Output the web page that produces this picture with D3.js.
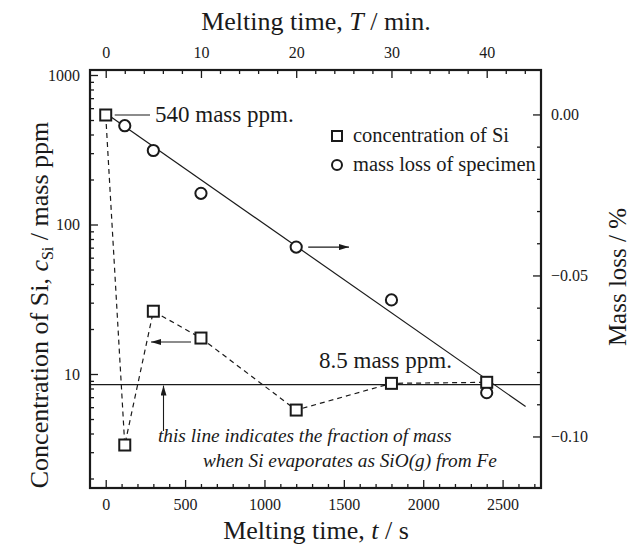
<!DOCTYPE html>
<html>
<head>
<meta charset="utf-8">
<script src="https://cdn.jsdelivr.net/npm/d3@7"></script>
<style>
  body { margin: 0; background: #fff; }
</style>
</head>
<body>
<svg id="chart" width="631" height="545"></svg>
<script>
// concentration of Si (left, log axis)
var concTime = [0, 120, 300, 600, 1200, 1800, 2400];
var concSi = [540, 3.35, 26.3, 17.4, 5.74, 8.66, 8.8];
// mass loss of specimen (right axis, %)
var lossTime = [120, 300, 600, 1200, 1800, 2400];
var massLoss = [-0.0035, -0.0112, -0.0245, -0.0412, -0.0576, -0.0864];
// fitted line through mass loss
var fitTime = [0, 2645];
var fitLoss = [0.0004, -0.0907];
var evapLevel = 8.5;

var bottomTicks = [0, 500, 1000, 1500, 2000, 2500];
var topTicks = [0, 10, 20, 30, 40];
var leftTicks = [10, 100, 1000];
var rightTicks = [0, -0.05, -0.10];

!(function (d3) {
  var svg = d3.select("#chart"),
    left = 90, right = 541, top = 70, bottom = 488,
    ink = "#1a1a1a";

  function txt(sel, size) {
    return sel.style("font-family", "'Liberation Serif'").style("font-size", size + "px").attr("fill", ink);
  }

  var x = d3.scaleLinear().domain([-99, 2742]).range([left, right]);
  var xMin = d3.scaleLinear().domain([-99 / 60, 2742 / 60]).range([left, right]);
  var yL = d3.scaleLog().domain([1.728, 1080]).range([bottom, top]);
  var yR = d3.scaleLinear().domain([-0.116, 0.0138]).range([bottom, top]);

  var defs = svg.append("defs");
  defs.append("marker")
    .attr("id", "arrow")
    .attr("viewBox", "0 0 10 6")
    .attr("refX", 10).attr("refY", 3)
    .attr("markerWidth", 10).attr("markerHeight", 6)
    .attr("markerUnits", "userSpaceOnUse")
    .attr("orient", "auto")
    .append("path").attr("d", "M0,0L10,3L0,6Z").attr("fill", ink);

  // minor ticks
  var minorB = d3.range(0, 2701, 100).filter(function (d) { return d % 500; });
  var minorT = d3.range(0, 46, 2).filter(function (d) { return d % 10; });
  var minorL = [];
  [1, 10, 100].forEach(function (p) {
    for (var k = 2; k <= 9; k++) if (k * p >= 1.728 && k * p <= 1080) minorL.push(k * p);
  });
  var minorR = d3.range(-10, 1).map(function (d) { return d / 100; })
    .filter(function (d) { return Math.abs(Math.round(d * 100)) % 5; });

  function axisStyle(g) {
    g.attr("font-family", null).attr("font-size", null);
    g.select(".domain").remove();
    g.selectAll("line").attr("stroke", ink).attr("stroke-width", 1.3);
    txt(g.selectAll("text"), 16);
  }

  svg.append("g").attr("transform", "translate(0," + bottom + ")")
    .call(d3.axisBottom(x).tickValues(minorB).tickSize(-4).tickFormat("")).call(axisStyle);
  svg.append("g").attr("transform", "translate(0," + bottom + ")")
    .call(d3.axisBottom(x).tickValues(bottomTicks).tickSize(-8).tickPadding(11).tickFormat(d3.format("d"))).call(axisStyle);

  svg.append("g").attr("transform", "translate(0," + top + ")")
    .call(d3.axisTop(xMin).tickValues(minorT).tickSize(-4).tickFormat("")).call(axisStyle);
  svg.append("g").attr("transform", "translate(0," + top + ")")
    .call(d3.axisTop(xMin).tickValues(topTicks).tickSize(-8).tickPadding(12).tickFormat(d3.format("d"))).call(axisStyle);

  svg.append("g").attr("transform", "translate(" + left + ",0)")
    .call(d3.axisLeft(yL).tickValues(minorL).tickSize(-4).tickFormat("")).call(axisStyle);
  svg.append("g").attr("transform", "translate(" + left + ",0)")
    .call(d3.axisLeft(yL).tickValues(leftTicks).tickSize(-8).tickPadding(10).tickFormat(d3.format("d"))).call(axisStyle);

  svg.append("g").attr("transform", "translate(" + right + ",0)")
    .call(d3.axisRight(yR).tickValues(minorR).tickSize(-4).tickFormat("")).call(axisStyle);
  svg.append("g").attr("transform", "translate(" + right + ",0)")
    .call(d3.axisRight(yR).tickValues(rightTicks).tickSize(-8).tickPadding(10).tickFormat(d3.format(".2f"))).call(axisStyle);

  svg.append("rect")
    .attr("x", left).attr("y", top)
    .attr("width", right - left).attr("height", bottom - top)
    .attr("fill", "none").attr("stroke", ink).attr("stroke-width", 2.2);

  // 8.5 ppm level
  svg.append("line")
    .attr("x1", left).attr("x2", right)
    .attr("y1", yL(evapLevel)).attr("y2", yL(evapLevel))
    .attr("stroke", ink).attr("stroke-width", 1.2);

  // fitted mass loss line
  var fit = fitTime.map(function (t, i) { return [t, fitLoss[i]]; });
  svg.append("path")
    .datum(fit)
    .attr("fill", "none").attr("stroke", ink).attr("stroke-width", 1.2)
    .attr("d", d3.line().x(function (d) { return x(d[0]); }).y(function (d) { return yR(d[1]); }));

  // concentration dashed line
  var conc = concTime.map(function (t, i) { return [t, concSi[i]]; });
  svg.append("path")
    .datum(conc)
    .attr("fill", "none").attr("stroke", ink).attr("stroke-width", 1.2)
    .attr("stroke-dasharray", "5,4")
    .attr("d", d3.line().x(function (d) { return x(d[0]); }).y(function (d) { return yL(d[1]); }));

  // circles
  svg.append("g").selectAll("circle")
    .data(lossTime.map(function (t, i) { return [t, massLoss[i]]; }))
    .enter().append("circle")
    .attr("cx", function (d) { return x(d[0]); })
    .attr("cy", function (d) { return yR(d[1]); })
    .attr("r", 5.6)
    .attr("fill", "#fff").attr("stroke", ink).attr("stroke-width", 2);

  // squares
  var sq = 11;
  svg.append("g").selectAll("rect")
    .data(conc)
    .enter().append("rect")
    .attr("x", function (d) { return x(d[0]) - sq / 2; })
    .attr("y", function (d) { return yL(d[1]) - sq / 2; })
    .attr("width", sq).attr("height", sq)
    .attr("fill", "#fff").attr("stroke", ink).attr("stroke-width", 2);

  // legend
  var lg = svg.append("g").attr("transform", "translate(337,136)");
  lg.append("rect").attr("x", -5).attr("y", -5).attr("width", 10).attr("height", 10)
    .attr("fill", "#fff").attr("stroke", ink).attr("stroke-width", 2);
  txt(lg.append("text").attr("x", 16).attr("y", 6), 20.5).text("concentration of Si");
  lg.append("circle").attr("cx", 0).attr("cy", 29).attr("r", 5)
    .attr("fill", "#fff").attr("stroke", ink).attr("stroke-width", 2);
  txt(lg.append("text").attr("x", 16).attr("y", 35), 20.5).text("mass loss of specimen");

  // annotations
  var y540 = yL(concSi[0]);
  svg.append("line").attr("x1", x(0) + 9).attr("x2", 150).attr("y1", y540).attr("y2", y540)
    .attr("stroke", ink).attr("stroke-width", 1.2);
  txt(svg.append("text").attr("x", 155).attr("y", y540 + 7), 23).text("540 mass ppm.");
  txt(svg.append("text").attr("x", 319).attr("y", 368), 23).text("8.5 mass ppm.");

  var yc = yR(massLoss[3]);
  svg.append("line").attr("x1", x(1200) + 12).attr("x2", 349).attr("y1", yc).attr("y2", yc)
    .attr("stroke", ink).attr("stroke-width", 1.1).attr("marker-end", "url(#arrow)");
  svg.append("line").attr("x1", 191).attr("x2", 151).attr("y1", 342).attr("y2", 342)
    .attr("stroke", ink).attr("stroke-width", 1.1).attr("marker-end", "url(#arrow)");
  svg.append("line").attr("x1", 163.5).attr("x2", 163.5).attr("y1", 431).attr("y2", yL(evapLevel) + 1)
    .attr("stroke", ink).attr("stroke-width", 1.1).attr("marker-end", "url(#arrow)");

  txt(svg.append("text").attr("x", 158).attr("y", 442), 19.3).style("font-style", "italic")
    .text("this line indicates the fraction of mass");
  txt(svg.append("text").attr("x", 203).attr("y", 467), 19.3).style("font-style", "italic")
    .text("when Si evaporates as SiO(g) from Fe");

  // axis titles
  var tTop = txt(svg.append("text").attr("x", 316).attr("y", 30).attr("text-anchor", "middle"), 26);
  tTop.append("tspan").text("Melting time, ");
  tTop.append("tspan").style("font-style", "italic").text("T");
  tTop.append("tspan").text(" / min.");

  var tBot = txt(svg.append("text").attr("x", 316).attr("y", 539).attr("text-anchor", "middle"), 26);
  tBot.append("tspan").text("Melting time, ");
  tBot.append("tspan").style("font-style", "italic").text("t");
  tBot.append("tspan").text(" / s");

  var tL = txt(svg.append("text").attr("transform", "translate(48,305) rotate(-90)")
    .attr("text-anchor", "middle"), 26);
  tL.append("tspan").text("Concentration of Si, ");
  tL.append("tspan").style("font-style", "italic").text("c");
  tL.append("tspan").attr("dy", 5).style("font-size", "16px").text("Si");
  tL.append("tspan").attr("dy", -5).text(" / mass ppm");

  txt(svg.append("text").attr("transform", "translate(626,277) rotate(-90)")
    .attr("text-anchor", "middle"), 25).text("Mass loss  / %");
})(d3);
</script>
</body>
</html>
